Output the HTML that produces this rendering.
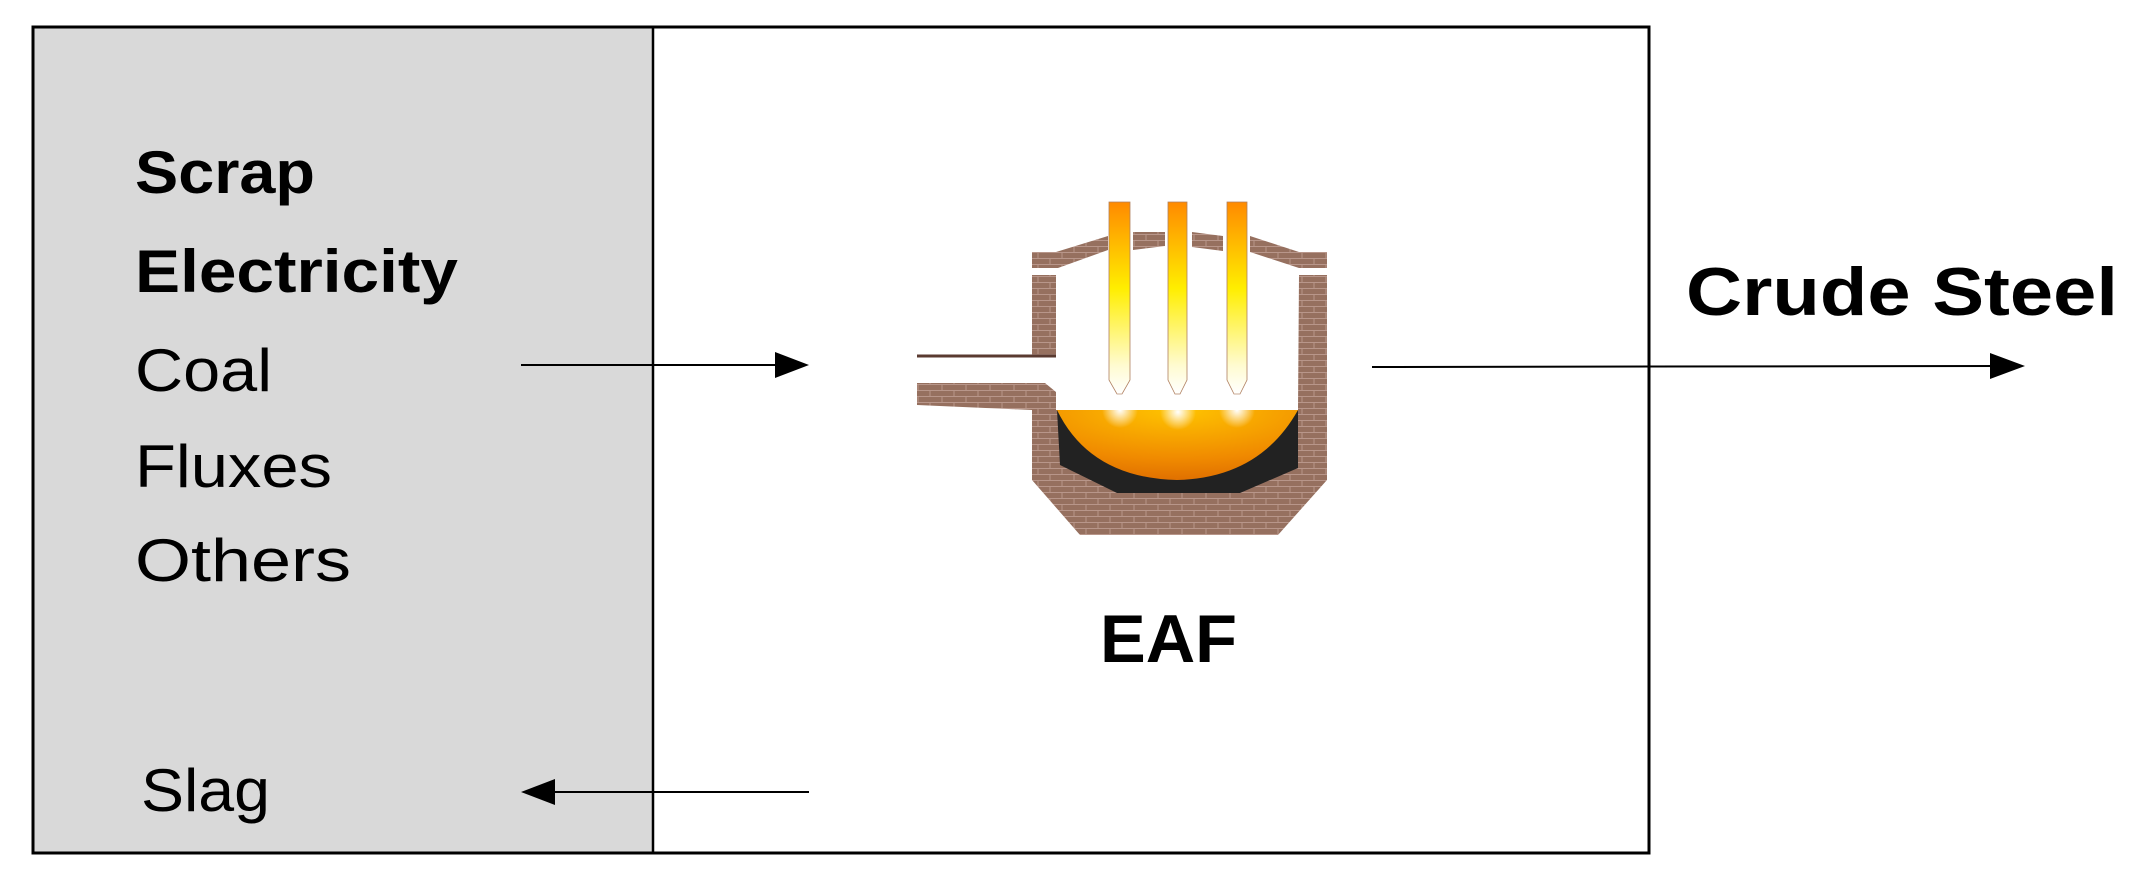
<!DOCTYPE html>
<html><head><style>html,body{margin:0;padding:0;background:#fff;}svg{display:block}</style></head>
<body>
<svg width="2150" height="890" viewBox="0 0 2150 890" xmlns="http://www.w3.org/2000/svg">
<defs>
<pattern id="brick" width="24" height="12" patternUnits="userSpaceOnUse">
<rect width="24" height="12" fill="#96705f"/>
<path d="M0 0.5H24M0 6.5H24M6 0V6M18 6V12" stroke="#b8968a" stroke-width="1"/>
</pattern>
<linearGradient id="el" x1="0" y1="0" x2="0" y2="1">
<stop offset="0" stop-color="#ff8a00"/><stop offset="0.45" stop-color="#ffee00"/><stop offset="0.85" stop-color="#fffbd0"/><stop offset="1" stop-color="#fff"/>
</linearGradient>
<radialGradient id="bath" cx="0.5" cy="0" r="1">
<stop offset="0" stop-color="#ffc400"/><stop offset="0.7" stop-color="#f08a00"/><stop offset="1" stop-color="#e07000"/>
</radialGradient>
<radialGradient id="glow"><stop offset="0" stop-color="#fff"/><stop offset="1" stop-color="#fff" stop-opacity="0"/></radialGradient>
</defs>
<rect x="33" y="27" width="620" height="826" fill="#d9d9d9"/>
<rect x="33" y="27" width="1616" height="826" fill="none" stroke="#000" stroke-width="3"/>
<line x1="653" y1="27" x2="653" y2="853" stroke="#000" stroke-width="2.5"/>
<g font-family="'Liberation Sans',sans-serif" fill="#000" font-size="60">
<text x="135" y="193" font-weight="bold" textLength="180" lengthAdjust="spacingAndGlyphs">Scrap</text>
<text x="135" y="292" font-weight="bold" textLength="323" lengthAdjust="spacingAndGlyphs">Electricity</text>
<text x="135" y="391" textLength="137" lengthAdjust="spacingAndGlyphs">Coal</text>
<text x="135" y="487" textLength="197" lengthAdjust="spacingAndGlyphs">Fluxes</text>
<text x="135" y="581" textLength="216" lengthAdjust="spacingAndGlyphs">Others</text>
<text x="141" y="811" textLength="129" lengthAdjust="spacingAndGlyphs">Slag</text>
<text x="1686" y="315" font-weight="bold" font-size="68" textLength="432" lengthAdjust="spacingAndGlyphs">Crude Steel</text>
<text x="1100" y="662" font-weight="bold" font-size="68" textLength="137" lengthAdjust="spacingAndGlyphs">EAF</text>
</g>
<g stroke="#000" stroke-width="2">
<line x1="521" y1="365" x2="790" y2="365"/>
<line x1="1372" y1="367" x2="2000" y2="366"/>
<line x1="545" y1="792" x2="809" y2="792"/>
</g>
<polygon points="775,352 809,365 775,378" fill="#000"/>
<polygon points="1990,353 2025,366 1990,379" fill="#000"/>
<polygon points="555,779 521,792 555,805" fill="#000"/>
<g>
<path d="M1032,252 L1056,252 L1108,236 L1108,250 L1058,268 L1032,268 Z" fill="url(#brick)"/>
<path d="M1133,232 L1165,232 L1165,246 L1133,250 Z" fill="url(#brick)"/>
<path d="M1192,232 L1223,236 L1223,251 L1192,247 Z" fill="url(#brick)"/>
<path d="M1250,236 L1299,252 L1327,252 L1327,268 L1299,268 L1250,252 Z" fill="url(#brick)"/>
<path d="M1032,275 L1056,275 L1056,357 L917,357 L917,355 L1032,355 Z" fill="url(#brick)"/>
<path d="M917,383 L1045,383 L1056,392 L1056,410 L1298,410 L1299,275 L1327,275 L1327,480 L1278,535 L1080,535 L1032,480 L1032,410 L917,405 Z" fill="url(#brick)"/>
<path d="M1057,410 L1298,410 L1298,468 L1240,493 L1117,493 L1060,465 Z" fill="#222"/>
<path d="M1057,410 L1298,410 Q1260,478 1177,480 Q1090,478 1057,410 Z" fill="url(#bath)"/>
<line x1="917" y1="356" x2="1056" y2="356" stroke="#5a3a30" stroke-width="3"/>
<g>
<path d="M1109,202 H1130 V380 L1122,394 H1117 L1109,380 Z" fill="url(#el)" stroke="#b08060" stroke-width="0.8"/>
<path d="M1168,202 H1187 V380 L1180,394 H1175 L1168,380 Z" fill="url(#el)" stroke="#b08060" stroke-width="0.8"/>
<path d="M1227,202 H1247 V380 L1240,394 H1234 L1227,380 Z" fill="url(#el)" stroke="#b08060" stroke-width="0.8"/>
<circle cx="1120" cy="410" r="18" fill="url(#glow)"/>
<circle cx="1178" cy="412" r="18" fill="url(#glow)"/>
<circle cx="1237" cy="410" r="18" fill="url(#glow)"/>
</g>
</g>
</svg>
</body></html>
